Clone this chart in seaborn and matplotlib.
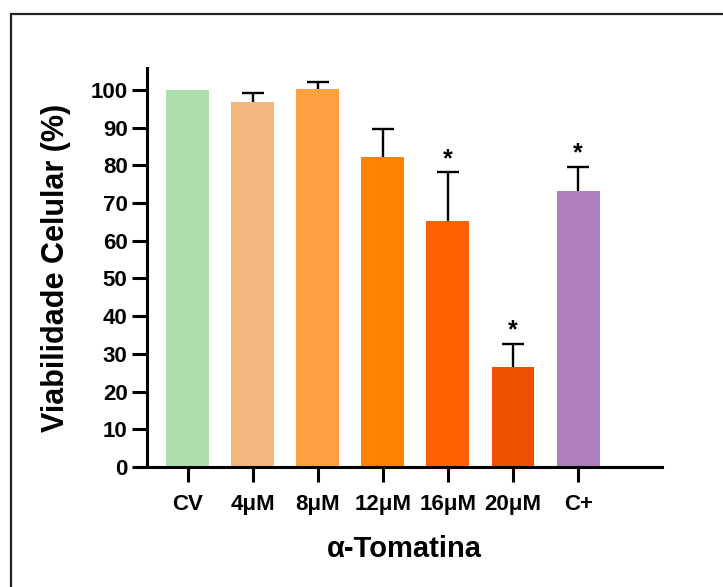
import numpy as np
import pandas as pd
import seaborn as sns
import matplotlib.pyplot as plt
from matplotlib.patches import Rectangle

# Data
groups = ["CV", "4μM", "8μM", "12μM", "16μM", "20μM", "C+"]
viability = [100.0, 96.9, 100.2, 82.3, 65.3, 26.4, 73.3]
err_upper = [0.0, 2.4, 1.9, 7.2, 12.8, 6.3, 6.3]
significant = [False, False, False, False, True, True, True]
bar_colors = ["#ADDFAD", "#F1B77F", "#FFA142", "#FF8200", "#FF6100", "#EF5000", "#AF7FBE"]

df = pd.DataFrame({"grupo": groups, "viab": viability})

sns.set_style("ticks")
plt.rcParams["font.family"] = ["Liberation Sans", "DejaVu Sans"]
plt.rcParams["text.color"] = "black"
plt.rcParams["xtick.color"] = "black"
plt.rcParams["ytick.color"] = "black"
plt.rcParams["axes.labelcolor"] = "black"

fig = plt.figure(figsize=(7.23, 5.87), dpi=100)
ax = fig.add_axes([147 / 723, 1 - 467 / 587, (662 - 147) / 723, (467 - 68) / 587])

sns.barplot(data=df, x="grupo", y="viab", hue="grupo", palette=bar_colors,
            saturation=1, width=0.66, linewidth=0, legend=False, ax=ax)

# Upper-only error bars (skip the control with no error)
x = np.arange(len(groups))
v = np.array(viability)
e = np.array(err_upper)
mask = e > 0
ax.vlines(x[mask], v[mask], v[mask] + e[mask], color="black", linewidth=1.7)
ax.plot(x[mask], v[mask] + e[mask], linestyle="none", marker="_",
        markersize=16, markeredgewidth=1.7, color="black")

# Significance asterisks
for i, (vi, ei, s) in enumerate(zip(viability, err_upper, significant)):
    if s:
        ax.annotate("*", (i, vi + ei), xytext=(0, 1), textcoords="offset points",
                    ha="center", va="bottom", fontsize=18, fontweight="bold")

ax.set_ylim(0, 105.8)
ax.set_xlim(-0.626, 7.29)
ax.set_yticks(range(0, 101, 10))

for side in ["top", "right"]:
    ax.spines[side].set_visible(False)
for side in ["left", "bottom"]:
    ax.spines[side].set_linewidth(2.2)
    ax.spines[side].set_color("black")

ax.tick_params(axis="both", width=2.2, length=10.5, color="black")
ax.tick_params(axis="y", pad=3.5)
ax.tick_params(axis="x", pad=9)
for lab in ax.get_xticklabels() + ax.get_yticklabels():
    lab.set_fontsize(16)
    lab.set_fontweight("bold")

ax.set_ylabel("Viabilidade Celular (%)", fontsize=22, fontweight="bold", labelpad=14)
ax.set_xlabel("α-Tomatina", fontsize=21, fontweight="bold", labelpad=14)

# Frame around the figure (only left and top edges visible in the reference)
fig.patches.append(Rectangle((11 / 723, -0.2), 1.5, 1.2 - 14 / 587,
                             transform=fig.transFigure, fill=False,
                             edgecolor="#222222", linewidth=1.6))

fig.savefig("out.png", dpi=100)
